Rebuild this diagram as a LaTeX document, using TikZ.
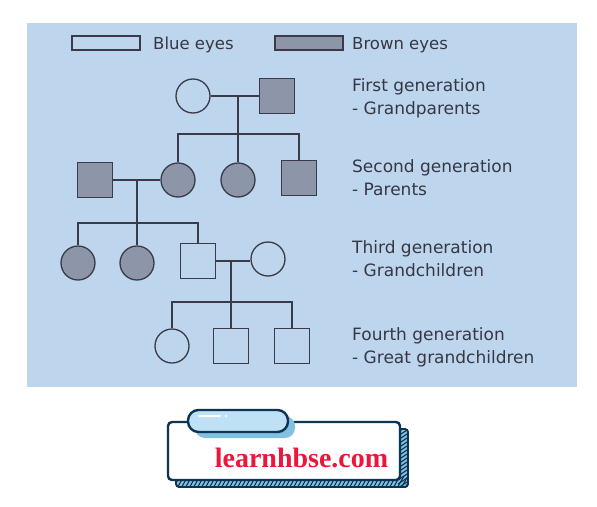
\documentclass[tikz,border=0pt]{standalone}
\usepackage{fontspec}
\setmainfont{DejaVu Sans}
\newfontfamily\logofont{Liberation Serif}
\usetikzlibrary{patterns}
\definecolor{bgblue}{RGB}{189,214,238}
\definecolor{brownfill}{RGB}{141,150,168}
\definecolor{lineclr}{RGB}{58,58,72}
\definecolor{txtclr}{RGB}{55,55,68}
\definecolor{navy}{RGB}{14,52,82}
\definecolor{pillblue}{RGB}{190,225,245}
\definecolor{shadeblue}{RGB}{130,192,226}
\definecolor{logored}{RGB}{236,22,58}
\tikzset{
  conn/.style={draw=lineclr, line width=1.3pt},
  male/.style={rectangle, draw=lineclr, line width=1.3pt, minimum size=35pt, inner sep=0pt},
  female/.style={circle, draw=lineclr, line width=1.3pt, minimum size=34pt, inner sep=0pt},
  brown/.style={fill=brownfill},
  gentext/.style={anchor=base west, inner sep=0pt, text=txtclr, font=\fontsize{17}{20}\selectfont},
  legtext/.style={anchor=base west, inner sep=0pt, text=txtclr, font=\fontsize{16.5}{20}\selectfont},
}
\begin{document}
\begin{tikzpicture}[x=1pt,y=-1pt]
\useasboundingbox (0,0) rectangle (597,506);
\fill[white] (0,0) rectangle (597,506);
\fill[bgblue] (27,23) rectangle (577,387);
% legend
\draw[line width=1.3pt, draw=lineclr] (72,36) rectangle (140,50);
\node[legtext] (lblue) at (153,49) {Blue eyes};
\draw[line width=1.3pt, draw=lineclr, fill=brownfill] (275,36) rectangle (343,50);
\node[legtext] (lbrown) at (352,49) {Brown eyes};
% generation labels
\node[gentext] (g1a) at (352,91) {First generation};
\node[gentext] (g1b) at (352,114) {- Grandparents};
\node[gentext] (g2a) at (352,172) {Second generation};
\node[gentext] (g2b) at (352,195) {- Parents};
\node[gentext] (g3a) at (352,253) {Third generation};
\node[gentext] (g3b) at (352,276) {- Grandchildren};
\node[gentext] (g4a) at (352,340) {Fourth generation};
\node[gentext] (g4b) at (352,363) {- Great grandchildren};
% first generation
\node[female] (gm) at (193,96) {};
\node[male,brown] (gf) at (277,96) {};
\draw[conn] (gm) -- (gf);
\coordinate (m1) at (238,96);
\coordinate (s1) at (238,134);
\draw[conn] (m1) -- (s1);
% second generation
\node[male,brown] (sp) at (95,180) {};
\node[female,brown] (d1) at (178,180) {};
\node[female,brown] (d2) at (238,180) {};
\node[male,brown] (b1) at (299,178) {};
\draw[conn] (d1.north) |- (s1) -| (b1.north);
\draw[conn] (s1) -- (d2.north);
\draw[conn] (sp) -- (d1);
\coordinate (m2) at (137,180);
\coordinate (s2) at (137,223);
\draw[conn] (m2) -- (s2);
% third generation
\node[female,brown] (t1) at (78,263) {};
\node[female,brown] (t2) at (137,263) {};
\node[male] (t3) at (198,261) {};
\node[female] (tw) at (268,259) {};
\draw[conn] (t1.north) |- (s2);
\draw[conn] (s2) -| (t3.north);
\draw[conn] (s2) -- (t2.north);
\draw[conn] (t3.east) -- (t3.east -| tw.west);
\coordinate (m3) at (231,261);
\coordinate (s3) at (231,302);
\draw[conn] (m3) -- (s3);
% fourth generation
\node[female] (f1) at (172,346) {};
\node[male] (f2) at (231,346) {};
\node[male] (f3) at (292,346) {};
\draw[conn] (f1.north) |- (s3) -| (f3.north);
\draw[conn] (s3) -- (f2.north);
% logo
\draw[navy, line width=1.6pt, fill=shadeblue, rounded corners=3pt] (176,429) rectangle (408,487);
\begin{scope}
\clip[rounded corners=3pt] (176,429) rectangle (408,487);
\foreach \k in {0,4,...,240} {
  \draw[navy, line width=1.1pt] (172+\k,490) -- (180+\k,476);
}
\foreach \k in {0,4,...,60} {
  \draw[navy, line width=1.1pt] (398,432+\k) -- (410,424+\k);
}
\end{scope}
\draw[navy, line width=1.6pt, rounded corners=3pt] (176,429) rectangle (408,487);
\draw[navy, line width=2.4pt, fill=white, rounded corners=4pt] (168,422) rectangle (400,480);
\fill[shadeblue, rounded corners=10pt] (195,416) rectangle (295,438);
\draw[navy, line width=2.4pt, fill=pillblue, rounded corners=10.5pt] (188,410) rectangle (288,432);
\draw[white, line width=2pt, line cap=round] (199,416) -- (220,416);
\fill[white] (226,416) circle (1.2pt);
\node[anchor=base, inner sep=0pt, text=logored, font=\logofont\bfseries\fontsize{28}{30}\selectfont] (logo) at (301.5,467.5) {learnhbse.com};
\end{tikzpicture}
\end{document}
